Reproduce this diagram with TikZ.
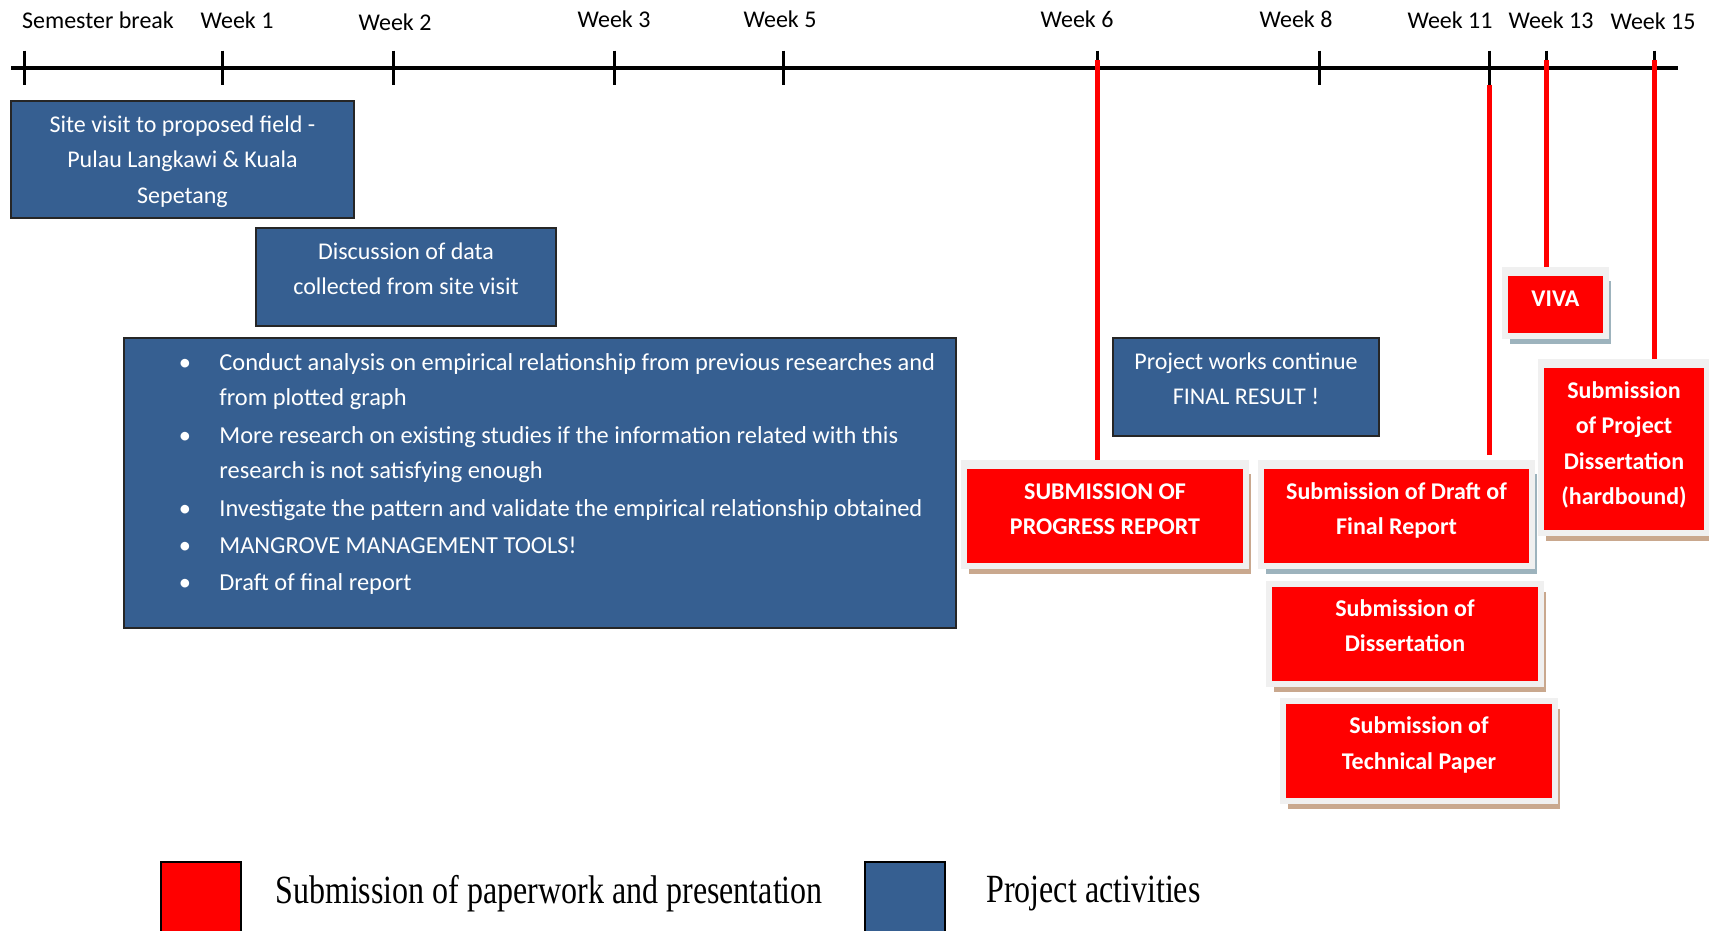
\documentclass[tikz,border=0pt]{standalone}
\usepackage{fontspec}
\setmainfont{Carlito}
\newfontfamily\legendfont[FakeStretch=0.8]{Liberation Serif}
\usetikzlibrary{shadows}

\definecolor{actblue}{HTML}{365F91}
\definecolor{subred}{HTML}{FF0000}
\definecolor{framegray}{HTML}{F0F0F0}
\definecolor{tanshadow}{HTML}{C9A88E}
\definecolor{greyshadow}{HTML}{9DB3BD}

% centred lines of box text, lifted by #1 without changing the box size
\newcommand\boxlines[2]{\raisebox{#1}[\height][\depth]{%
  \begin{tabular}{@{}c@{}}#2\end{tabular}}}

\tikzset{
  timeline/.style={line width=2pt, black},
  tickmark/.style={line width=1.5pt, black},
  weeklabel/.style={font=\fontsize{12}{14}\selectfont, inner sep=0pt},
  deadline/.style={line width=2.5pt, subred},
  act/.style={draw=black!85, line width=0.75pt, fill=actblue, text=white,
    inner sep=0pt, font=\fontsize{12}{17.75}\selectfont},
  acttext/.style={text=white, inner sep=0pt, align=left,
    font=\fontsize{12.2}{17.5}\selectfont},
  sub/.style={draw=framegray, line width=3pt, fill=subred, text=white,
    inner sep=0pt, font=\fontsize{12}{17.75}\bfseries\selectfont},
  tanshade/.style={drop shadow={shadow xshift=2.5pt, shadow yshift=-4pt,
    fill=tanshadow, opacity=1}},
  greyshade/.style={drop shadow={shadow xshift=2.5pt, shadow yshift=-4pt,
    fill=greyshadow, opacity=1}},
  legendbox/.style={draw=black, line width=0.75pt, minimum width=40pt,
    minimum height=40pt, inner sep=0pt},
  legendtext/.style={font=\legendfont\fontsize{20}{24}\selectfont,
    inner sep=0pt, anchor=west},
}

\begin{document}
\begin{tikzpicture}[x=0.5pt, y=-0.5pt]
\useasboundingbox (0,0) rectangle (1709,931);

% time axis
\coordinate (tlstart) at (11,67.6);
\coordinate (tlend) at (1678,67.6);
\draw[timeline] (tlstart) -- (tlend);
\foreach \n/\x in {sb/24, w1/222, w2/393, w3/614, w5/783, w6/1097,
                   w8/1319, w11/1489, w13/1546, w15/1654} {
  \coordinate (\n) at (\x,67.6);
  \draw[tickmark] ([yshift=8.5pt]\n) -- ([yshift=-8.5pt]\n);
}

% week labels
\node[weeklabel] (lsb)  at (98,20)   {Semester break};
\node[weeklabel] (lw1)  at (237,20)  {Week 1};
\node[weeklabel] (lw2)  at (395,22)  {Week 2};
\node[weeklabel] (lw3)  at (614,19)  {Week 3};
\node[weeklabel] (lw5)  at (780,19)  {Week 5};
\node[weeklabel] (lw6)  at (1077,19) {Week 6};
\node[weeklabel] (lw8)  at (1296,19) {Week 8};
\node[weeklabel] (lw11) at (1450,20) {Week 11};
\node[weeklabel] (lw13) at (1551,20) {Week 13};
\node[weeklabel] (lw15) at (1653,21) {Week 15};

% project activities
\node[act, minimum width=171.5pt, minimum height=58.5pt] (site) at (182.5,159.5)
  {\boxlines{-0.5pt}{Site visit to proposed field -\\Pulau Langkawi \& Kuala\\Sepetang}};
\node[act, minimum width=150pt, minimum height=49pt] (discuss) at (406,277)
  {\boxlines{3.6pt}{Discussion of data\\collected from site visit}};
\node[act, minimum width=416pt, minimum height=145pt] (analysis) at (540,483) {};
\node[act, minimum width=133pt, minimum height=49pt] (cont) at (1246,387)
  {\boxlines{3.6pt}{Project works continue\\FINAL RESULT !}};

\foreach \n/\y in {1/370, 2/443, 3/516, 4/553, 5/590}
  \node[acttext, anchor=base] (b\n) at (185,\y) {\textbullet};
\node[acttext, anchor=base west] (i1) at (219,405)
  {Conduct analysis on empirical relationship from previous researches and\\from plotted graph};
\node[acttext, anchor=base west] (i2) at (219,478)
  {More research on existing studies if the information related with this\\research is not satisfying enough};
\node[acttext, anchor=base west] (i3) at (219,516)
  {Investigate the pattern and validate the empirical relationship obtained};
\node[acttext, anchor=base west] (i4) at (219,553)
  {MANGROVE MANAGEMENT TOOLS!};
\node[acttext, anchor=base west] (i5) at (219,590)
  {Draft of final report};

% deadline boxes
\node[sub, tanshade, minimum width=141pt, minimum height=50pt] (prog) at (1105,516)
  {\boxlines{3pt}{SUBMISSION OF\\PROGRESS REPORT}};
\node[sub, greyshade, minimum width=135.5pt, minimum height=50pt] (draft) at (1396.5,516)
  {\boxlines{3pt}{Submission of Draft of\\Final Report}};
\node[sub, greyshade, minimum width=50.5pt, minimum height=31.5pt] (viva) at (1555.5,304.5)
  {\boxlines{2.5pt}{VIVA}};
\node[sub, tanshade, minimum width=83pt, minimum height=84pt] (hard) at (1624,449)
  {\boxlines{2.2pt}{Submission\\of Project\\Dissertation\\(hardbound)}};
\node[sub, tanshade, minimum width=136pt, minimum height=50pt] (diss) at (1405,634)
  {\boxlines{3.6pt}{Submission of\\Dissertation}};
\node[sub, tanshade, minimum width=136pt, minimum height=50pt] (tech) at (1419,751)
  {\boxlines{3.4pt}{Submission of\\Technical Paper}};

% drop lines from the axis to the deadlines
\draw[deadline] ([yshift=4pt]w6) -- (w6 |- prog.north);
\draw[deadline, shorten >=4pt] ([yshift=-8.5pt]w11) -- (w11 |- draft.north);
\draw[deadline] ([yshift=4pt]w13) -- (w13 |- viva.north);
\draw[deadline] ([yshift=4pt]w15) -- (w15 |- hard.north);

% frame edges back over the line ends
\foreach \b in {prog, draft, viva, hard}
  \draw[framegray, line width=3pt] (\b.north west) -- (\b.north east);

% legend
\node[legendbox, fill=subred, anchor=north west] (lgsub) at (160,861) {};
\node[legendtext] (lgsubtext) at (275,894) {Submission of paperwork and presentation};
\node[legendbox, fill=actblue, anchor=north west] (lgact) at (864,861) {};
\node[legendtext] (lgacttext) at (986,894) {Project activities};
\end{tikzpicture}
\end{document}
